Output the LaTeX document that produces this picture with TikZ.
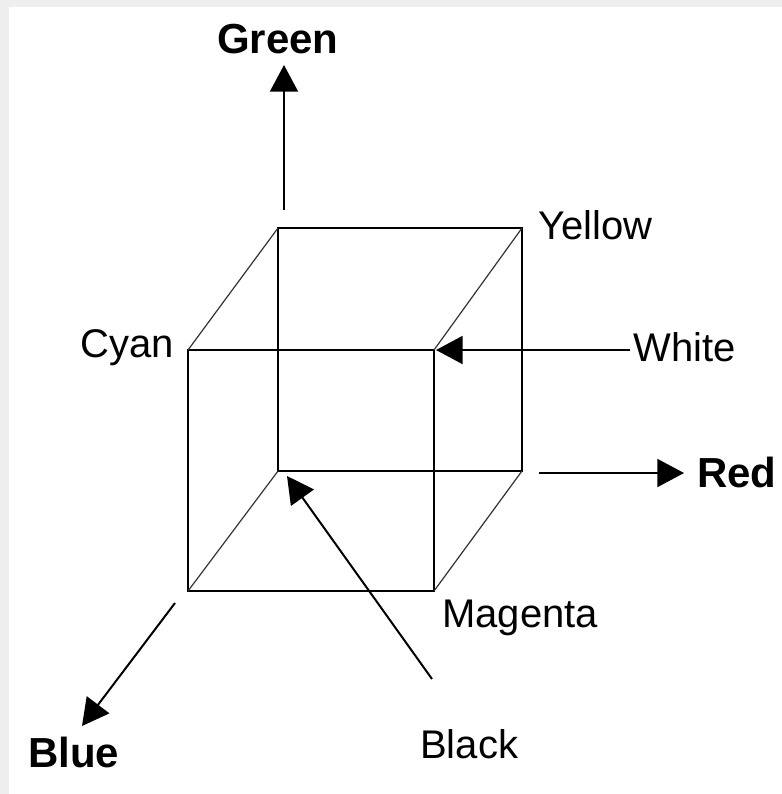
\documentclass[tikz,border=0pt]{standalone}
\usepackage{fontspec}
\setmainfont{Liberation Sans}
\usetikzlibrary{arrows.meta,positioning}
\definecolor{Frame}{HTML}{EEEEEE}

\begin{document}
\begin{tikzpicture}[x=0.75pt,y=-0.75pt,
    edge/.style={line width=1.5pt},
    diag/.style={line width=0.9pt,black!80},
    axis/.style={line width=1.5pt,-{Triangle[length=20pt,width=21pt]}},
    lbl/.style={inner sep=0pt,anchor=base west,font=\fontsize{30}{32}\selectfont},
    axlbl/.style={inner sep=0pt,anchor=base west,font=\fontsize{31.5}{33}\selectfont\bfseries}]
  % frame
  \fill[Frame] (0,0) rectangle (782,794);
  \fill[white] (9,7) rectangle (782,794);
  \useasboundingbox (0,0) rectangle (782,794);
  % cube corners
  \coordinate (btl) at (278,228);
  \coordinate (btr) at (522,228);
  \coordinate (bbl) at (278,471);
  \coordinate (bbr) at (522,471);
  \coordinate (ftl) at (188,350);
  \coordinate (ftr) at (434,350);
  \coordinate (fbl) at (188,591);
  \coordinate (fbr) at (434,591);
  \draw[edge] (btl) rectangle (bbr);
  \draw[edge] (ftl) rectangle (fbr);
  \foreach \c in {tl,tr,bl,br} {
    \draw[diag] (b\c) -- (f\c);
  }
  % labels
  \node[axlbl] (green) at (217,53) {Green};
  \node[axlbl] (red) at (697,487) {Red};
  \node[axlbl] (blue) at (28,767) {Blue};
  \node[lbl] (yellow) at (538,239) {Yellow};
  \node[lbl] (cyan) at (80,357) {Cyan};
  \node[lbl] (white) at (633,361) {White};
  \node[lbl] (magenta) at (442,627) {Magenta};
  \node[lbl] (black) at (420,758) {Black};
  % axes and pointers
  \coordinate (gfrom) at (284,210);
  \coordinate (gto) at (284,65);
  \coordinate (rfrom) at (539,473);
  \coordinate (rto) at (684,473);
  \coordinate (bfrom) at (175,603);
  \coordinate (bto) at (82,726);
  \coordinate (wfrom) at (630,350);
  \coordinate (wto) at (436,350);
  \coordinate (kfrom) at (432,679);
  \coordinate (kto) at (287,476);
  \draw[axis] (gfrom) -- (gto);
  \draw[axis] (rfrom) -- (rto);
  \draw[axis] (bfrom) -- (bto);
  \draw[axis] (wfrom) -- (wto);
  \draw[axis] (kfrom) -- (kto);
\end{tikzpicture}
\end{document}
